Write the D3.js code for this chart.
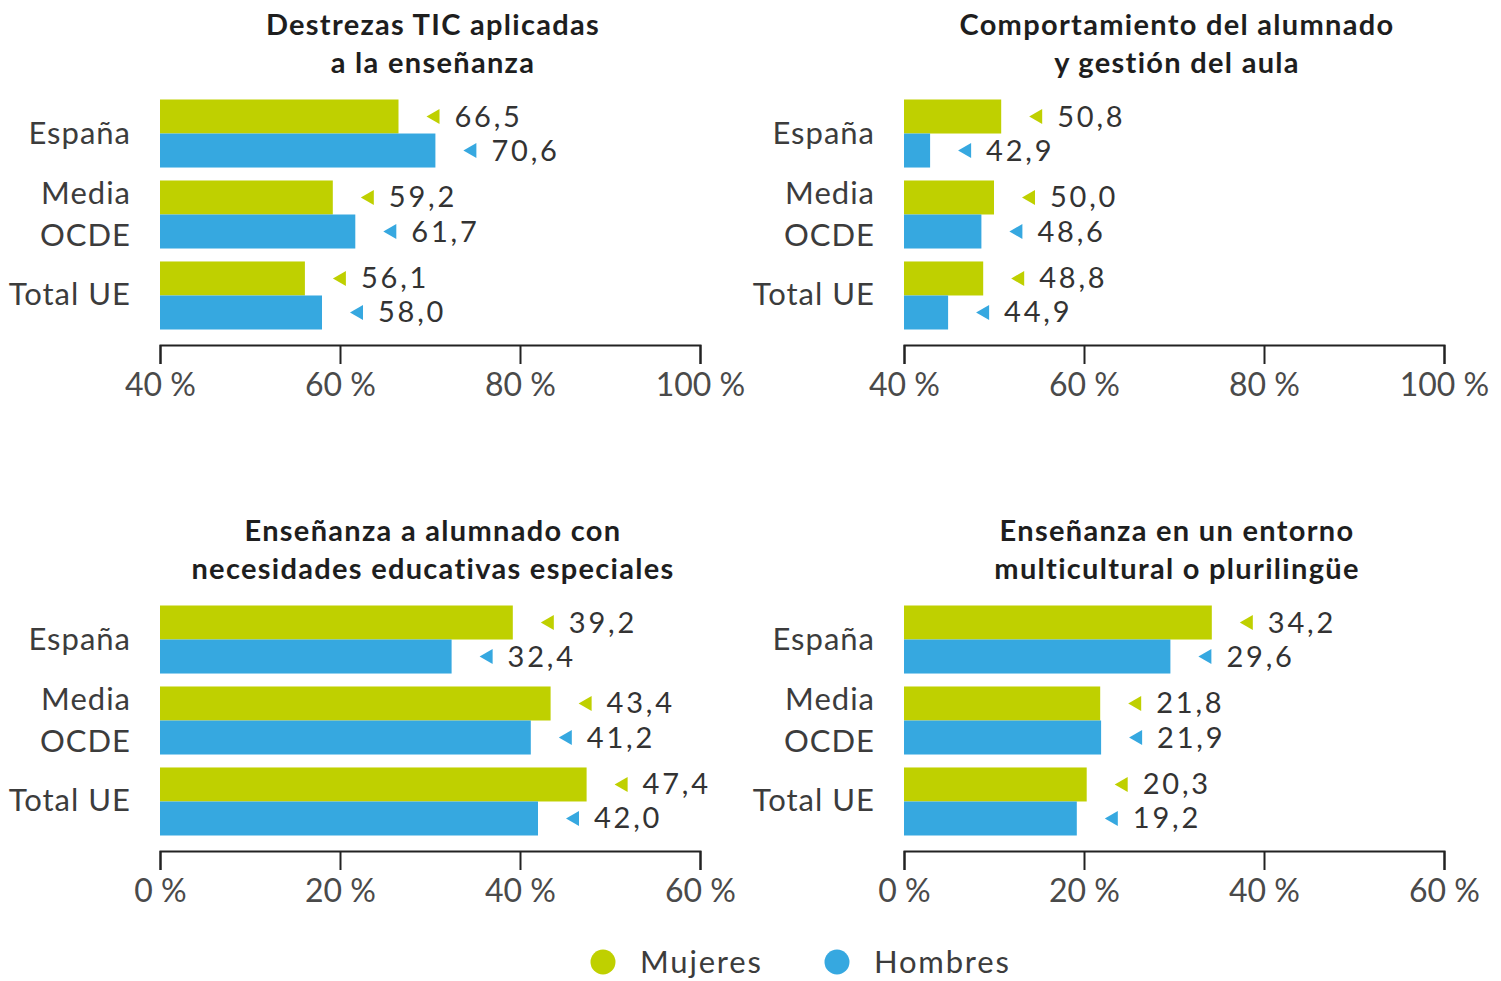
<!DOCTYPE html>
<html>
<head>
<meta charset="utf-8">
<script src="https://cdn.jsdelivr.net/npm/d3@7"></script>
<style>
  body { margin: 0; background: #fff; }
  text { font-family: Lato, "Open Sans", sans-serif; }
</style>
</head>
<body>
<script>
// categories and series
var categories = ["España", "Media OCDE", "Total UE"]
var categoryLines = [["España"], ["Media", "OCDE"], ["Total UE"]]
var seriesNames = ["Mujeres", "Hombres"]

// values (%)
var ticMujeres = [66.5, 59.2, 56.1]
var ticHombres = [70.6, 61.7, 58.0]
var aulaMujeres = [50.8, 50.0, 48.8]
var aulaHombres = [42.9, 48.6, 44.9]
var neeMujeres = [39.2, 43.4, 47.4]
var neeHombres = [32.4, 41.2, 42.0]
var multiMujeres = [34.2, 21.8, 20.3]
var multiHombres = [29.6, 21.9, 19.2]

var topTicks = [40, 60, 80, 100]
var bottomTicks = [0, 20, 40, 60]

var titles = [
  ["Destrezas TIC aplicadas", "a la enseñanza"],
  ["Comportamiento del alumnado", "y gestión del aula"],
  ["Enseñanza a alumnado con", "necesidades educativas especiales"],
  ["Enseñanza en un entorno", "multicultural o plurilingüe"]
]

var colors = {Mujeres: "#bfd000", Hombres: "#36a8e0"}

var screen = {width: 1501, height: 981}

var svg = d3.select("body")
  .append("svg")
  .attr("width", screen.width)
  .attr("height", screen.height)

var fmt = function(v) { return d3.format(".1f")(v).replace(".", ",") }

var panels = [
  {title: titles[0], m: ticMujeres, h: ticHombres, ticks: topTicks, x0: 160, dy: 0},
  {title: titles[1], m: aulaMujeres, h: aulaHombres, ticks: topTicks, x0: 904, dy: 0},
  {title: titles[2], m: neeMujeres, h: neeHombres, ticks: bottomTicks, x0: 160, dy: 506},
  {title: titles[3], m: multiMujeres, h: multiHombres, ticks: bottomTicks, x0: 904, dy: 506}
]

panels.forEach(function(p) {
  var g = svg.append("g").attr("transform", "translate(0," + p.dy + ")")

  var xScale = d3.scaleLinear()
    .domain([p.ticks[0], p.ticks[p.ticks.length - 1]])
    .range([p.x0, p.x0 + 540])

  var yScale = d3.scaleBand()
    .domain(categories)
    .range([99.5, 329.5])
    .paddingInner(0.16)

  var sScale = d3.scaleBand()
    .domain(seriesNames)
    .range([0, yScale.bandwidth()])

  // title
  var cx = p.x0 + 273
  g.append("text")
    .attr("x", cx)
    .attr("text-anchor", "middle")
    .style("font-size", "29px")
    .style("font-weight", "bold")
    .style("letter-spacing", "1.3px")
    .attr("fill", "#1e1e1e")
    .selectAll("tspan")
    .data(p.title)
    .enter()
    .append("tspan")
    .attr("x", cx)
    .attr("y", function(d, i) { return 35 + i * 38 })
    .text(function(d) { return d })

  // category labels
  g.selectAll(".cat")
    .data(categories)
    .enter()
    .append("text")
    .attr("class", "cat")
    .attr("text-anchor", "end")
    .attr("fill", "#3c3c3c")
    .style("font-size", "31px")
    .style("letter-spacing", "1px")
    .each(function(d, i) {
      var lines = categoryLines[i]
      var mid = yScale(d) + yScale.bandwidth() / 2
      d3.select(this).selectAll("tspan")
        .data(lines)
        .enter()
        .append("tspan")
        .attr("x", p.x0 - 29)
        .attr("y", function(l, j) { return mid + 10 + (j - (lines.length - 1) / 2) * 42 })
        .text(function(l) { return l })
    })

  // bars
  var rows = []
  categories.forEach(function(c, i) {
    rows.push({cat: c, s: "Mujeres", v: p.m[i]})
    rows.push({cat: c, s: "Hombres", v: p.h[i]})
  })

  g.selectAll("rect")
    .data(rows)
    .enter()
    .append("rect")
    .attr("x", xScale.range()[0])
    .attr("y", function(d) { return yScale(d.cat) + sScale(d.s) })
    .attr("width", function(d) { return xScale(d.v) - xScale.range()[0] })
    .attr("height", sScale.bandwidth())
    .attr("fill", function(d) { return colors[d.s] })

  // value labels with little triangles
  var lab = g.selectAll(".lab")
    .data(rows)
    .enter()
    .append("g")
    .attr("class", "lab")
    .attr("transform", function(d) {
      return "translate(" + xScale(d.v) + "," + (yScale(d.cat) + sScale(d.s) + sScale.bandwidth() / 2) + ")"
    })

  lab.append("path")
    .attr("d", "M28,0L41,-7.5L41,7.5Z")
    .attr("fill", function(d) { return colors[d.s] })

  lab.append("text")
    .attr("x", 56)
    .attr("y", 10)
    .attr("fill", "#333")
    .style("font-size", "29px")
    .style("letter-spacing", "2.8px")
    .text(function(d) { return fmt(d.v) })

  // axis
  var xAxis = d3.axisBottom(xScale)
    .tickValues(p.ticks)
    .tickSize(19)
    .tickPadding(9)
    .tickFormat(function(d) { return d + " %" })

  var ax = g.append("g")
    .attr("transform", "translate(0,345)")
    .call(xAxis)

  ax.select(".domain").attr("stroke", "#222").attr("stroke-width", 2)
  ax.selectAll(".tick line").attr("stroke", "#222").attr("stroke-width", 2)
  ax.selectAll(".tick text")
    .attr("fill", "#4a4a4a")
    .style("font-size", "32px")
    .style("font-family", "Lato, sans-serif")
})

// legend
var legend = svg.append("g")
  .attr("id", "legend")

var items = legend.selectAll("g")
  .data(seriesNames)
  .enter()
  .append("g")
  .attr("transform", function(d, i) { return "translate(" + (603 + i * 234) + ",962)" })

items.append("circle")
  .attr("r", 12.5)
  .attr("fill", function(d) { return colors[d] })

items.append("text")
  .attr("x", 37)
  .attr("y", 11)
  .attr("fill", "#3c3c3c")
  .style("font-size", "31px")
  .style("letter-spacing", "1.8px")
  .text(function(d) { return d })
</script>
</body>
</html>
